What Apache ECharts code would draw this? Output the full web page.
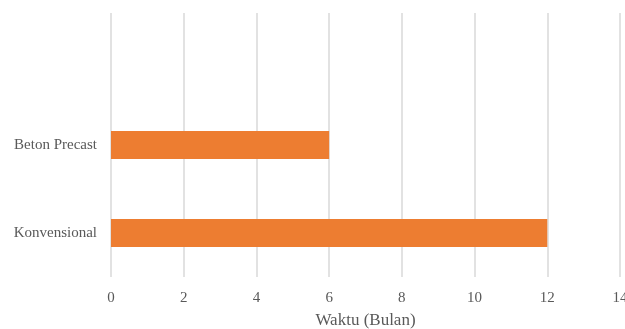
<!DOCTYPE html>
<html>
<head>
<meta charset="utf-8">
<script src="https://cdn.jsdelivr.net/npm/echarts@6/dist/echarts.min.js"></script>
<style>
  html, body { margin: 0; padding: 0; background: #fff; }
  #chart { width: 625px; height: 329px; }
</style>
</head>
<body>
<div id="chart"></div>
<script>
// bottom to top; the top slot is empty in the source chart
const categories = ['Konvensional', 'Beton Precast', '']
const durations = [12, 6, null]
const xTicks = { min: 0, max: 14, interval: 2 }

const FONT = '"Liberation Serif", "Times New Roman", serif'
const TEXT_COLOR = '#595959'

const chart = echarts.init(document.getElementById('chart'), null, { renderer: 'canvas' })

chart.setOption({
  animation: false,
  grid: {
    top: 13,
    bottom: 52,
    left: 111,
    right: 5,
    outerBoundsMode: 'none',
    containLabel: false
  },
  xAxis: {
    type: 'value',
    min: xTicks.min,
    max: xTicks.max,
    interval: xTicks.interval,
    name: 'Waktu (Bulan)',
    nameLocation: 'middle',
    nameGap: 35,
    nameTextStyle: { fontFamily: FONT, fontSize: 17, color: TEXT_COLOR },
    axisLine: { show: false },
    axisTick: { show: false },
    axisLabel: { fontFamily: FONT, fontSize: 15, color: TEXT_COLOR, margin: 14 },
    splitLine: { lineStyle: { color: '#d9d9d9', width: 1.5 } }
  },
  yAxis: {
    type: 'category',
    data: categories,
    axisLine: { show: false },
    axisTick: { show: false },
    axisLabel: { fontFamily: FONT, fontSize: 15, color: TEXT_COLOR, margin: 14 }
  },
  series: [
    {
      type: 'bar',
      data: durations,
      barWidth: 28,
      itemStyle: { color: '#ED7D31' }
    }
  ]
})
</script>
</body>
</html>
